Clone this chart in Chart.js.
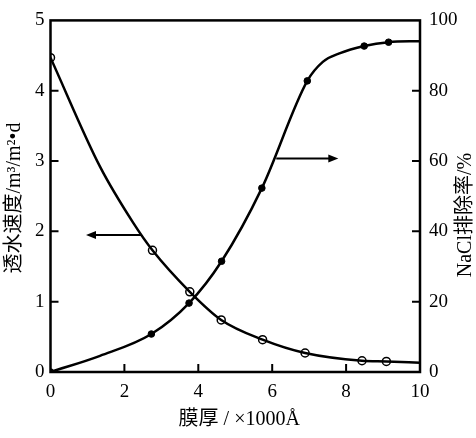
<!DOCTYPE html>
<html>
<head>
<meta charset="utf-8">
<script src="https://cdn.jsdelivr.net/npm/chart.js@4/dist/chart.umd.min.js"></script>
<style>
  body { margin: 0; background: #fff; }
  #wrap { width: 476px; height: 438px; }
</style>
</head>
<body>
<div id="wrap"><canvas id="chart" width="476" height="438"></canvas></div>
<script>
// membrane thickness (x1000 A) vs water flux and NaCl rejection
const fluxCurveX = [0, 1.34, 2.24, 2.76, 3.77, 4.62, 5.74, 6.89, 8.43, 9.09, 10];
const fluxCurveY = [4.47, 2.92, 2.12, 1.73, 1.14, 0.74, 0.46, 0.27, 0.16, 0.15, 0.13];
const fluxMarkX = [0, 2.76, 3.77, 4.62, 5.74, 6.89, 8.43, 9.09];
const fluxMarkY = [4.47, 1.73, 1.14, 0.74, 0.46, 0.27, 0.16, 0.15];

const rejCurveX = [0, 1.34, 2.73, 3.75, 4.63, 5.72, 6.95, 7.37, 7.82, 8.49, 9.15, 10];
const rejCurveY = [0, 4.6, 10.8, 19.6, 31.5, 52.3, 82.8, 88.2, 90.6, 92.7, 93.8, 94.1];
const rejMarkX = [0, 2.73, 3.75, 4.63, 5.72, 6.95, 8.49, 9.15];
const rejMarkY = [0, 10.8, 19.6, 31.5, 52.3, 82.8, 92.7, 93.8];

const xTicks = [0, 2, 4, 6, 8, 10];
const fluxTicks = [0, 1, 2, 3, 4, 5];
const rejTicks = [0, 20, 40, 60, 80, 100];

const xTitle = "膜厚 / ×1000Å";
const fluxTitle = "透水速度/m³/m²•d";
const rejTitle = "NaCl排除率/%";

const pts = (xs, ys) => xs.map((x, i) => ({ x: x, y: ys[i] }));
const tickFont = { family: "'Liberation Serif', 'Times New Roman', serif", size: 19 };
const titleFont = "20px 'Liberation Serif', 'Noto Sans CJK SC', serif";

// frame, inward ticks, arrows and rotated axis titles
const decorations = {
  id: "decorations",
  afterDatasetsDraw(chart) {
    const { ctx, chartArea: a, scales } = chart;
    const x = scales.x, y = scales.y, y1 = scales.y1;
    ctx.save();
    ctx.strokeStyle = "#000";
    ctx.lineWidth = 2.5;
    ctx.strokeRect(a.left, a.top, a.right - a.left, a.bottom - a.top);

    ctx.lineWidth = 2;
    ctx.beginPath();
    xTicks.slice(1, -1).forEach((v) => {
      const px = x.getPixelForValue(v);
      ctx.moveTo(px, a.bottom);
      ctx.lineTo(px, a.bottom - 8);
    });
    fluxTicks.slice(1, -1).forEach((v) => {
      const py = y.getPixelForValue(v);
      ctx.moveTo(a.left, py);
      ctx.lineTo(a.left + 8, py);
    });
    rejTicks.slice(1, -1).forEach((v) => {
      const py = y1.getPixelForValue(v);
      ctx.moveTo(a.right, py);
      ctx.lineTo(a.right - 8, py);
    });
    ctx.stroke();

    // arrows pointing to the axis each curve belongs to
    const arrow = (x0, x1v, py) => {
      const p0 = x.getPixelForValue(x0);
      const p1 = x.getPixelForValue(x1v);
      const dir = p1 > p0 ? 1 : -1;
      ctx.lineWidth = 2;
      ctx.beginPath();
      ctx.moveTo(p0, py);
      ctx.lineTo(p1 - dir * 6, py);
      ctx.stroke();
      ctx.beginPath();
      ctx.moveTo(p1, py);
      ctx.lineTo(p1 - dir * 10, py - 4);
      ctx.lineTo(p1 - dir * 10, py + 4);
      ctx.closePath();
      ctx.fill();
    };
    ctx.fillStyle = "#000";
    arrow(2.46, 0.96, y.getPixelForValue(1.95));
    arrow(6.11, 7.79, y1.getPixelForValue(60.7));

    ctx.font = titleFont;
    ctx.textAlign = "center";
    ctx.textBaseline = "middle";
    ctx.fillText(xTitle, (a.left + a.right) / 2 + 4, 420);

    ctx.save();
    ctx.translate(15, 198);
    ctx.rotate(-Math.PI / 2);
    ctx.fillText(fluxTitle, 0, 0);
    ctx.restore();

    ctx.save();
    ctx.translate(466, 215);
    ctx.rotate(-Math.PI / 2);
    ctx.fillText(rejTitle, 0, 0);
    ctx.restore();
    ctx.restore();
  },
};

new Chart(document.getElementById("chart"), {
  type: "line",
  data: {
    datasets: [
      {
        data: pts(fluxCurveX, fluxCurveY),
        yAxisID: "y",
        borderColor: "#000",
        borderWidth: 2.5,
        pointRadius: 0,
        cubicInterpolationMode: "monotone",
      },
      {
        data: pts(rejCurveX, rejCurveY),
        yAxisID: "y1",
        borderColor: "#000",
        borderWidth: 2.5,
        pointRadius: 0,
        cubicInterpolationMode: "monotone",
      },
      {
        data: pts(fluxMarkX, fluxMarkY),
        yAxisID: "y",
        showLine: false,
        pointRadius: 4,
        pointBorderWidth: 1.5,
        pointBorderColor: "#000",
        pointBackgroundColor: "#fff",
      },
      {
        data: pts(rejMarkX, rejMarkY),
        yAxisID: "y1",
        showLine: false,
        pointRadius: 3.3,
        pointBorderWidth: 1,
        pointBorderColor: "#000",
        pointBackgroundColor: "#000",
      },
    ],
  },
  options: {
    responsive: false,
    animation: false,
    layout: { padding: { top: 15 } },
    plugins: { legend: { display: false }, tooltip: { enabled: false } },
    scales: {
      x: {
        type: "linear",
        min: 0,
        max: 10,
        afterBuildTicks: (s) => { s.ticks = xTicks.map((v) => ({ value: v })); },
        afterFit: (s) => { s.height = 66; },
        grid: { display: false, drawTicks: false },
        border: { display: false },
        ticks: { color: "#000", font: tickFont, padding: 9, maxRotation: 0 },
      },
      y: {
        position: "left",
        min: 0,
        max: 5,
        afterBuildTicks: (s) => { s.ticks = fluxTicks.map((v) => ({ value: v })); },
        afterFit: (s) => { s.width = 50.5; },
        grid: { display: false, drawTicks: false },
        border: { display: false },
        ticks: { color: "#000", font: tickFont, padding: 6 },
      },
      y1: {
        position: "right",
        min: 0,
        max: 100,
        afterBuildTicks: (s) => { s.ticks = rejTicks.map((v) => ({ value: v })); },
        afterFit: (s) => { s.width = 56; },
        grid: { display: false, drawTicks: false },
        border: { display: false },
        ticks: { color: "#000", font: tickFont, padding: 9 },
      },
    },
  },
  plugins: [decorations],
});
</script>
</body>
</html>
